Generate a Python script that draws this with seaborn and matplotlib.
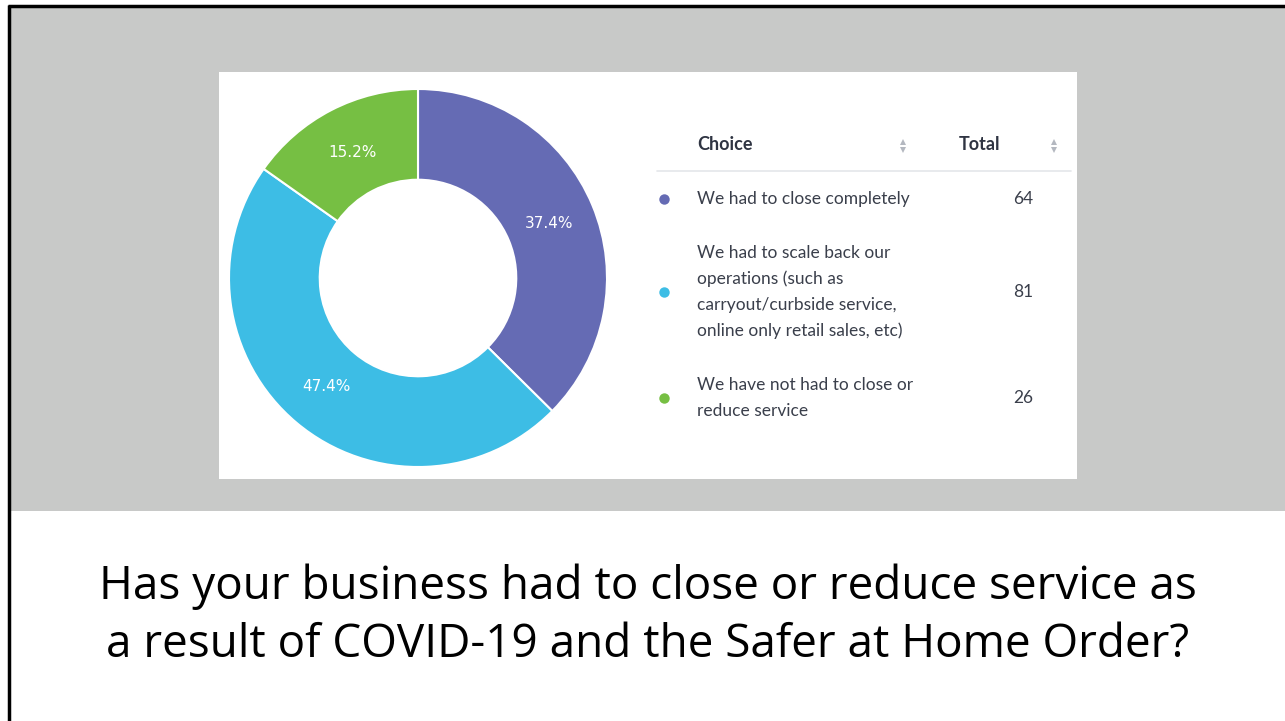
import matplotlib
matplotlib.use("Agg")
import matplotlib.pyplot as plt
import seaborn as sns
from matplotlib.patches import Rectangle

sns.set_theme(style="white")
plt.rcParams['font.family'] = ['Lato', 'DejaVu Sans']

# Data
choices = [
    "We had to close completely",
    "We had to scale back our\noperations (such as\ncarryout/curbside service,\nonline only retail sales, etc)",
    "We have not had to close or\nreduce service",
]
totals = [64, 81, 26]
colors = ["#656BB4", "#3DBDE5", "#76BF43"]
title_lines = ["Has your business had to close or reduce service as",
               "a result of COVID-19 and the Safer at Home Order?"]

W, H = 1285, 721
fig = plt.figure(figsize=(W / 100, H / 100), dpi=100)
fig.patch.set_facecolor("white")

bg = fig.add_axes([0, 0, 1, 1])
bg.set_xlim(0, W)
bg.set_ylim(H, 0)
bg.axis("off")
bg.add_patch(Rectangle((9, 6), W - 9, 505, facecolor="#C8C9C8", edgecolor="none"))
bg.plot([9, 9], [5, H], color="black", lw=2.5, solid_capstyle="butt")
bg.plot([8, W], [6, 6], color="black", lw=2.5, solid_capstyle="butt")
bg.add_patch(Rectangle((219, 72), 858, 407, facecolor="white", edgecolor="none"))

# Donut
cx, cy, R = 418, 278, 189
ax = fig.add_axes([(cx - R) / W, (H - cy - R) / H, 2 * R / W, 2 * R / H])
ax.set_aspect("equal")
wedges, texts, autotexts = ax.pie(
    totals, colors=colors, startangle=90, counterclock=False,
    autopct="%1.1f%%", pctdistance=0.75, radius=1,
    wedgeprops=dict(width=0.48, edgecolor="white", linewidth=1.5),
    textprops=dict(color="white", fontsize=11, family="DejaVu Sans"))
ax.set_xlim(-1, 1)
ax.set_ylim(-1, 1)
ax.axis("off")

# Table
txt = "#3a3f4b"
bg.text(697, 145, "Choice", fontsize=13, fontweight="bold", color="#2f3442", va="center", ha="left")
bg.text(959, 145, "Total", fontsize=13, fontweight="bold", color="#2f3442", va="center", ha="left")
for xa in (903, 1054):
    bg.plot([xa], [141.5], marker="^", markersize=3.8, color="#b4b8c0", markeredgewidth=0)
    bg.plot([xa], [149.5], marker="v", markersize=3.8, color="#b4b8c0", markeredgewidth=0)
bg.plot([657, 1071], [171, 171], color="#e4e6ea", lw=1.2)

row_y = [199, 292, 398]
for name, val, col, y in zip(choices, totals, colors, row_y):
    bg.plot([664], [y], marker="o", markersize=7.5, color=col, markeredgewidth=0)
    bg.text(697, y, name, fontsize=12.5, color=txt, va="center", ha="left", linespacing=1.72)
    bg.text(1033, y, str(val), fontsize=12.5, color=txt, va="center", ha="right")

# Title
bg.text(648, 587, title_lines[0], fontsize=33, color="black", ha="center", va="center",
        family=["Open Sans", "DejaVu Sans"])
bg.text(648, 645, title_lines[1], fontsize=33, color="black", ha="center", va="center",
        family=["Open Sans", "DejaVu Sans"])

fig.savefig("out.png", dpi=100, facecolor="white")
